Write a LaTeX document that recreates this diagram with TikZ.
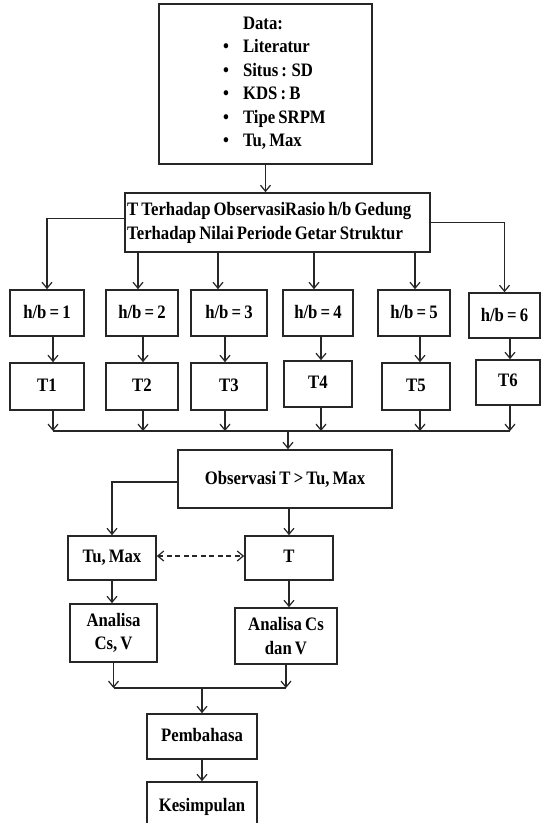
\documentclass[tikz,border=0pt]{standalone}
\usepackage{fontspec}
\setmainfont{Liberation Serif}[FakeStretch=0.88,WordSpace=0.75]
\usetikzlibrary{arrows.meta,calc}
\newcommand{\bff}{\fontsize{19}{23.5}\selectfont\bfseries}
\begin{document}
\begin{tikzpicture}[x=1pt,y=-1pt,
  box/.style={draw=black!85, line width=1.7pt, inner sep=0pt, font=\bff, align=center},
  conn/.style={draw=black!85, line width=1.2pt},
  arr/.style={conn, -{Straight Barb[length=6pt,width=10pt]}},
  darr/.style={conn, dash pattern=on 5pt off 3.5pt, {Straight Barb[length=6pt,width=10pt]}-{Straight Barb[length=6pt,width=10pt]}}]
\useasboundingbox (0,0) rectangle (542,823);
\clip (0,0) rectangle (542,823);
\fill[white] (0,0) rectangle (542,823);

% Data box
\node[box, minimum width=213pt, minimum height=160pt] (data) at (265.5,84) {};
\node[anchor=base west, inner sep=0pt, font=\bff] (datatext) at (223,29)
  {\begin{tabular}[t]{@{}l@{\hspace{14pt}}l@{}}
   & Data:\\
   \textbullet & Literatur\\
   \textbullet & Situs : SD\\
   \textbullet & KDS : B\\
   \textbullet & Tipe SRPM\\
   \textbullet & Tu, Max
   \end{tabular}};

% Main box
\node[box, minimum width=305pt, minimum height=59pt] (main) at (277.5,222.5) {};
\node[anchor=west, inner sep=0pt, font=\bff, align=left] (maintext) at (127,223)
  {T Terhadap ObservasiRasio h/b Gedung\\Terhadap Nilai Periode Getar Struktur};

% h/b boxes
\node[box, minimum width=74pt, minimum height=46pt] (hb1) at (47,313) {\raisebox{3pt}{h/b = 1}};
\node[box, minimum width=72pt, minimum height=46pt] (hb2) at (142,313) {\raisebox{3pt}{h/b = 2}};
\node[box, minimum width=76pt, minimum height=46pt] (hb3) at (229,313) {\raisebox{3pt}{h/b = 3}};
\node[box, minimum width=70pt, minimum height=46pt] (hb4) at (318,313) {\raisebox{3pt}{h/b = 4}};
\node[box, minimum width=72pt, minimum height=46pt] (hb5) at (414,313) {\raisebox{3pt}{h/b = 5}};
\node[box, minimum width=71pt, minimum height=45pt] (hb6) at (504.5,315.5) {\raisebox{1pt}{h/b = 6}};

% T boxes
\node[box, minimum width=74pt, minimum height=47pt] (t1) at (47,386.5) {\raisebox{3pt}{T1}};
\node[box, minimum width=72pt, minimum height=47pt] (t2) at (142,386.5) {\raisebox{3pt}{T2}};
\node[box, minimum width=76pt, minimum height=47pt] (t3) at (229,386.5) {\raisebox{3pt}{T3}};
\node[box, minimum width=68pt, minimum height=46pt] (t4) at (318,384) {\raisebox{4pt}{T4}};
\node[box, minimum width=68pt, minimum height=47pt] (t5) at (416,386.5) {\raisebox{3pt}{T5}};
\node[box, minimum width=64pt, minimum height=45pt] (t6) at (508,382.5) {\raisebox{4pt}{T6}};

% Observasi
\node[box, minimum width=214pt, minimum height=58pt] (obs) at (285,479) {\raisebox{-5pt}{Observasi T > Tu, Max}};

% second level
\node[box, minimum width=88pt, minimum height=44pt] (tumax) at (112,558) {\raisebox{3pt}{Tu, Max}};
\node[box, minimum width=88pt, minimum height=44pt] (tb) at (289,558) {\raisebox{4pt}{T}};
\node[box, minimum width=87pt, minimum height=58pt] (anl) at (113.5,633) {Analisa\\Cs, V};
\node[box, minimum width=102pt, minimum height=56pt] (anr) at (286,636) {Analisa Cs\\dan V};
\node[box, minimum width=110pt, minimum height=45pt] (pem) at (202,736.5) {\raisebox{3pt}{Pembahasa}};
\node[box, minimum width=110pt, minimum height=52pt] (kes) at (202,808) {\raisebox{6pt}{Kesimpulan}};

% coordinates for buses
\coordinate (bus1) at (288,431);
\coordinate (bus2) at (202,688);

% connectors
\draw[arr] (data.south) -- (data.south |- main.north);
\draw[arr] ([yshift=4pt]main.west) -| (hb1.north);
\draw[arr] (main.east) -| (hb6.north);
\draw[arr] ([xshift=-4pt]hb2.north |- main.south) -- ([xshift=-4pt]hb2.north);
\draw[arr] ([xshift=-11pt]hb3.north |- main.south) -- ([xshift=-11pt]hb3.north);
\draw[arr] ([xshift=-4pt]hb4.north |- main.south) -- ([xshift=-4pt]hb4.north);
\draw[arr] ([xshift=1pt]hb5.north |- main.south) -- ([xshift=1pt]hb5.north);

\draw[arr] ([xshift=6pt]hb1.south) -- ([xshift=6pt]hb1.south |- t1.north);
\draw[arr] ([xshift=1pt]hb2.south) -- ([xshift=1pt]hb2.south |- t2.north);
\draw[arr] ([xshift=-4pt]hb3.south) -- ([xshift=-4pt]hb3.south |- t3.north);
\draw[arr] ([xshift=3pt]hb4.south) -- ([xshift=3pt]hb4.south |- t4.north);
\draw[arr] ([xshift=6pt]hb5.south) -- ([xshift=6pt]hb5.south |- t5.north);
\draw[arr] ([xshift=5.5pt]hb6.south) -- ([xshift=5.5pt]hb6.south |- t6.north);

\draw[arr] ([xshift=6pt]t1.south) -- ([xshift=6pt]t1.south |- bus1);
\draw[arr] ([xshift=1pt]t2.south) -- ([xshift=1pt]t2.south |- bus1);
\draw[arr] ([xshift=-4pt]t3.south) -- ([xshift=-4pt]t3.south |- bus1);
\draw[arr] ([xshift=3pt]t4.south) -- ([xshift=3pt]t4.south |- bus1);
\draw[arr] ([xshift=4pt]t5.south) -- ([xshift=4pt]t5.south |- bus1);
\draw[arr] ([xshift=2pt]t6.south) -- ([xshift=2pt]t6.south |- bus1);
\draw[conn] ([xshift=6pt]t1.south |- bus1) -- ([xshift=2pt]t6.south |- bus1);
\draw[arr] (bus1) -- (bus1 |- obs.north);

\draw[arr] ([yshift=-3pt]obs.west) -| (tumax.north);
\draw[arr] (tb.north |- obs.south) -- (tb.north);
\draw[darr] ([yshift=2pt]tumax.east) -- ([yshift=2pt]tb.west);

\draw[arr] (tumax.south) -- (tumax.south |- anl.north);
\draw[arr] (tb.south) -- (tb.south |- anr.north);
\draw[arr] (anl.south) -- (anl.south |- bus2);
\draw[arr] (anr.south) -- (anr.south |- bus2);
\draw[conn] (anl.south |- bus2) -- (anr.south |- bus2);
\draw[arr] (bus2) -- (pem.north);
\draw[arr] (pem.south) -- (kes.north);
\end{tikzpicture}
\end{document}
